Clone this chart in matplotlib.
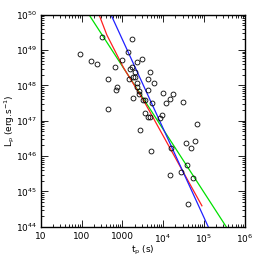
import numpy as np
import matplotlib
matplotlib.use("Agg")
import matplotlib.pyplot as plt
from matplotlib.ticker import LogLocator, FixedLocator, NullFormatter

# Data (log10 values)
log_tp = [1.972, 2.225, 2.381, 2.511, 2.814, 2.658, 2.863, 2.838, 2.658, 3.000,
          3.230, 3.141, 3.181, 3.230, 3.157, 3.255, 3.304, 3.320, 3.255, 3.353,
          3.361, 3.410, 3.418, 3.369, 3.484, 3.435, 3.516, 3.557, 3.549, 3.623,
          3.623, 3.631, 3.688, 3.770, 3.680, 3.729, 3.696, 3.933, 3.974, 3.990,
          4.080, 4.178, 4.235, 4.186, 4.170, 4.489, 4.440, 4.570, 4.578, 4.676,
          4.783, 4.824, 4.734, 4.603]
log_lp = [48.896, 48.679, 48.604, 49.377, 48.528, 48.170, 47.962, 47.877, 47.340, 48.717,
          49.302, 48.943, 48.462, 48.528, 48.189, 48.236, 48.236, 48.387, 47.651, 48.066,
          47.943, 47.849, 47.755, 48.670, 48.736, 46.726, 47.585, 47.585, 47.226, 47.094,
          48.189, 47.868, 48.387, 48.057, 47.113, 47.491, 46.142, 47.066, 47.160, 47.774,
          47.491, 47.613, 47.745, 46.217, 45.472, 47.528, 45.557, 46.377, 45.745, 46.236,
          46.415, 46.906, 45.387, 44.651]

green_logx = [2.184, 5.55]
green_logy = [50.0, 44.0]
blue_logx = [2.723, 5.108]
blue_logy = [50.0, 44.0]
red_logx = [2.43, 2.62, 3.03, 3.515, 4.953]
red_logy = [50.0, 49.43, 48.50, 47.59, 44.594]

x_ticks = [10, 100, 1000, 1e4, 1e5, 1e6]
x_ticklabels = ["10", "100", "1000", r"$10^4$", r"$10^5$", r"$10^6$"]
y_ticks = [1e44, 1e45, 1e46, 1e47, 1e48, 1e49, 1e50]
y_ticklabels = [r"$10^{%d}$" % k for k in range(44, 51)]

tp = 10 ** np.array(log_tp)
lp = 10 ** np.array(log_lp)

fig = plt.figure(figsize=(2.58, 2.58), dpi=100)
ax = fig.add_axes([0.158, 0.121, 0.790, 0.822])
ax.set_xscale("log")
ax.set_yscale("log")
ax.set_xlim(10, 1e6)
ax.set_ylim(1e44, 1e50)

ax.plot(10 ** np.array(green_logx), 10 ** np.array(green_logy), color="#00e000", lw=0.9, zorder=2)
ax.plot(10 ** np.array(red_logx), 10 ** np.array(red_logy), color="#ff2020", lw=0.9, zorder=2)
ax.plot(10 ** np.array(blue_logx), 10 ** np.array(blue_logy), color="#2020ff", lw=0.9, zorder=2)
ax.plot(tp, lp, linestyle="none", marker="o", markersize=3.5, markerfacecolor="none",
        markeredgecolor="black", markeredgewidth=0.6, zorder=3)

ax.xaxis.set_major_locator(FixedLocator(x_ticks))
ax.set_xticklabels(x_ticklabels)
ax.yaxis.set_major_locator(FixedLocator(y_ticks))
ax.set_yticklabels(y_ticklabels)
ax.xaxis.set_minor_locator(LogLocator(base=10, subs=np.arange(2, 10), numticks=20))
ax.yaxis.set_minor_locator(LogLocator(base=10, subs=np.arange(2, 10), numticks=20))
ax.xaxis.set_minor_formatter(NullFormatter())
ax.yaxis.set_minor_formatter(NullFormatter())

ax.tick_params(which="both", direction="in", top=True, right=True, labelsize=6.5, colors="black", width=0.6)
ax.tick_params(which="major", length=5)
ax.tick_params(axis="x", which="major", pad=4)
ax.tick_params(axis="y", which="major", pad=2.5)
ax.tick_params(which="minor", length=2.5)
for s in ax.spines.values():
    s.set_linewidth(1.0)

ax.set_xlabel(r"t$_\mathrm{p}$ (s)", fontsize=6.5, labelpad=0)
ax.xaxis.set_label_coords(0.5, -0.08)
ax.set_ylabel(r"L$_\mathrm{p}$ (erg.s$^{-1}$)", fontsize=6.5, labelpad=0)
ax.yaxis.set_label_coords(-0.118, 0.5)

fig.savefig("out.png", dpi=100)
